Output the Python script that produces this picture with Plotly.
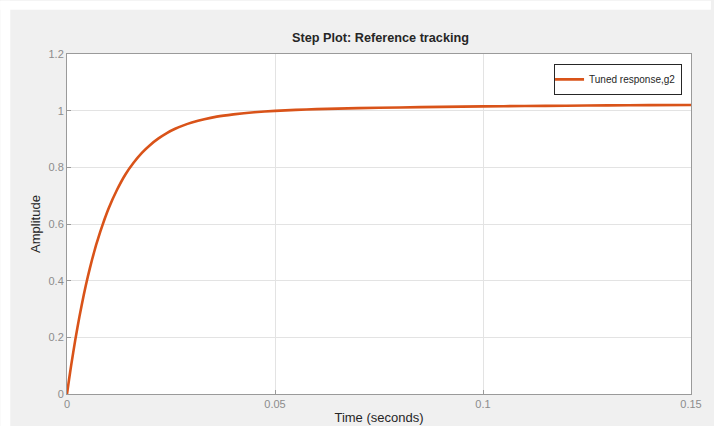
import plotly.graph_objects as go

# Step response
time_s = [0, 0.0005, 0.001, 0.002, 0.003, 0.004, 0.005, 0.006, 0.007, 0.008, 0.009,
          0.010, 0.012, 0.014, 0.016, 0.018, 0.020, 0.022, 0.024, 0.026, 0.028,
          0.030, 0.033, 0.036, 0.040, 0.045, 0.050, 0.055, 0.060, 0.070, 0.080,
          0.090, 0.100, 0.110, 0.120, 0.130, 0.140, 0.150]
amplitude = [0, 0.052, 0.101, 0.192, 0.274, 0.348, 0.414, 0.473, 0.526, 0.573, 0.616,
             0.655, 0.720, 0.774, 0.816, 0.851, 0.879, 0.902, 0.921, 0.936, 0.948,
             0.958, 0.970, 0.979, 0.987, 0.9945, 0.9993, 1.0027, 1.0053, 1.0089, 1.0114,
             1.0135, 1.0151, 1.0165, 1.0176, 1.0186, 1.0194, 1.0201]
series_name = "Tuned response,g2"
x_ticks = [0, 0.05, 0.1, 0.15]
x_tick_labels = ["0", "0.05", "0.1", "0.15"]
y_ticks = [0, 0.2, 0.4, 0.6, 0.8, 1.0, 1.2]
y_tick_labels = ["0", "0.2", "0.4", "0.6", "0.8", "1", "1.2"]

W, H = 714, 434
L, R, T, B = 67, 20, 54, 35
pw, ph = W - L - R, H - T - B
FONT = "Liberation Sans, Arial, Helvetica, sans-serif"

fig = go.Figure()
fig.add_trace(go.Scatter(
    x=time_s, y=amplitude, mode="lines", name=series_name,
    line=dict(color="#D95319", width=2.6, shape="spline", smoothing=0.5),
))

axis_common = dict(
    showgrid=True, gridcolor="#E3E3E3", gridwidth=1,
    showline=True, linecolor="#9A9A9A", linewidth=1, mirror=True,
    ticks="inside", ticklen=4, tickcolor="#9A9A9A",
    tickfont=dict(family=FONT, size=11, color="#8C8C8C"),
    zeroline=False,
)

fig.update_xaxes(range=[0, 0.15], tickvals=x_ticks, ticktext=x_tick_labels,
                 title=dict(text="Time (seconds)", standoff=3,
                            font=dict(family=FONT, size=13, color="#262626")),
                 **axis_common)
fig.update_yaxes(range=[0, 1.2], tickvals=y_ticks, ticktext=y_tick_labels,
                 title=dict(text="Amplitude", standoff=4,
                            font=dict(family=FONT, size=13, color="#262626")),
                 **axis_common)

fig.update_layout(
    width=W, height=H,
    margin=dict(l=L, r=R, t=T, b=B),
    paper_bgcolor="#F0F0F0", plot_bgcolor="white",
    title=dict(text="<b>Step Plot: Reference tracking</b>", x=(L + pw / 2) / W, xanchor="center",
               y=1 - 37.5 / H, yanchor="middle",
               font=dict(family=FONT, size=12.7, color="#262626")),
    showlegend=True,
    legend=dict(x=(685 - L) / pw, xanchor="right", y=(H - B - 64) / ph, yanchor="top",
                bgcolor="white", bordercolor="#262626", borderwidth=1,
                font=dict(family=FONT, size=10, color="#262626"),
                itemwidth=30, tracegroupgap=0, indentation=-6),
    shapes=[
        # white strips along the top and left edges of the picture
        dict(type="rect", xref="paper", yref="paper",
             x0=-L / pw, x1=(W - L) / pw, y0=(H - B - 9) / ph, y1=(H - B) / ph,
             fillcolor="white", line=dict(width=0), layer="below"),
        dict(type="rect", xref="paper", yref="paper",
             x0=-L / pw, x1=(10 - L) / pw, y0=-B / ph, y1=(H - B) / ph,
             fillcolor="white", line=dict(width=0), layer="below"),
    ],
)

fig.write_html(
    "out.html",
    config={"displayModeBar": False},
    post_script="document.body.style.margin='0';document.documentElement.style.overflow='hidden';document.body.style.overflow='hidden';",
)
